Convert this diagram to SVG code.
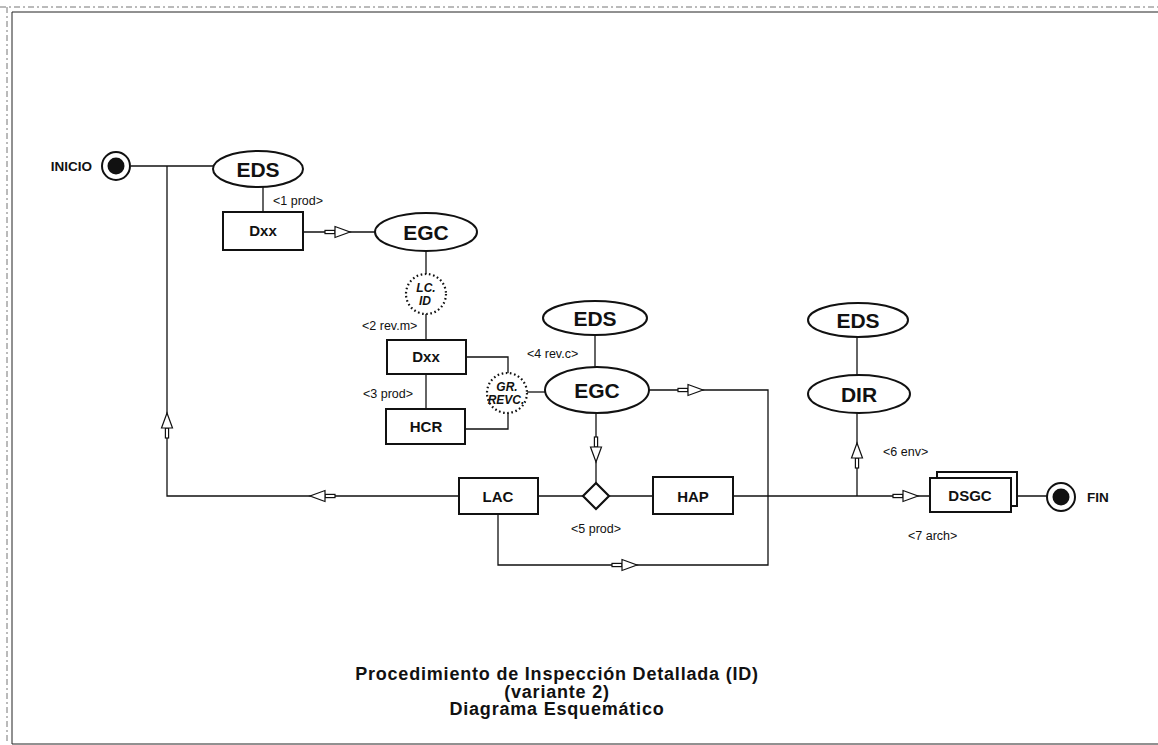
<svg xmlns="http://www.w3.org/2000/svg" xmlns:xlink="http://www.w3.org/1999/xlink" width="1158" height="745" viewBox="0 0 1158 745">
<style>
.frame{stroke:#222;stroke-width:1;fill:none}
.frame2{stroke:#777;stroke-width:1;fill:none;stroke-dasharray:6 3 2 3}
.conn{stroke:#111;stroke-width:1.3;fill:none}
.box{fill:#fff;stroke:#111;stroke-width:2}
.ell{fill:#fff;stroke:#111;stroke-width:2}
.dot{fill:#fff;stroke:#111;stroke-width:2.2;stroke-dasharray:1.6 2.6}
.arr{fill:#fff;stroke:#111;stroke-width:1.2}
.big{font-family:"Liberation Sans",Arial,sans-serif;font-weight:bold;font-size:21px;fill:#111;text-anchor:middle}
.bt{font-family:"Liberation Sans",Arial,sans-serif;font-weight:bold;font-size:15px;fill:#111;text-anchor:middle}
.it{font-family:"Liberation Sans",Arial,sans-serif;font-weight:bold;font-style:italic;font-size:12px;fill:#111;text-anchor:middle}
.lbl{font-family:"Liberation Sans",Arial,sans-serif;font-size:12.5px;fill:#111}
.term{font-family:"Liberation Sans",Arial,sans-serif;font-weight:bold;font-size:13.5px;fill:#111}
.title{font-family:"Liberation Sans",Arial,sans-serif;font-weight:bold;font-size:18px;letter-spacing:0.8px;fill:#111;text-anchor:middle}
</style>
<defs>
<g id="arr">
<rect class="arr" x="-25" y="-1.6" width="10" height="3.2"/>
<polygon class="arr" points="-15,-5.5 0,0 -15,5.5"/>
</g>
</defs>
<rect x="0" y="0" width="1158" height="745" fill="#fff"/>
<g id="frame">
<line class="frame2" x1="0" y1="7" x2="1158" y2="7"/>
<line class="frame" x1="12" y1="12" x2="1158" y2="12"/>
<line class="frame2" x1="7" y1="7" x2="7" y2="744"/>
<line class="frame" x1="12" y1="12" x2="12" y2="744"/>
<line class="frame" x1="12" y1="744" x2="1158" y2="744"/>
</g>
<g id="connectors">
<path class="conn" d="M131,166 H214"/>
<path class="conn" d="M167,166 V496 H459"/>
<path class="conn" d="M263,184 V212"/>
<path class="conn" d="M303,232 H376"/>
<path class="conn" d="M426,250 V340"/>
<path class="conn" d="M426,374 V409"/>
<path class="conn" d="M466,357 H508 V429 H465"/>
<path class="conn" d="M527,392 H547"/>
<path class="conn" d="M595,334 V368"/>
<path class="conn" d="M648,390 H768 V565 H498 V514"/>
<path class="conn" d="M596,412 V484"/>
<path class="conn" d="M538,496 H931"/>
<path class="conn" d="M857,496 V412"/>
<path class="conn" d="M857,336 V377"/>
<path class="conn" d="M1011,496 H1047"/>
<use xlink:href="#arr" transform="translate(167,413) rotate(-90)"/>
<use xlink:href="#arr" transform="translate(310,496) rotate(180)"/>
<use xlink:href="#arr" transform="translate(350,232)"/>
<use xlink:href="#arr" transform="translate(703,390)"/>
<use xlink:href="#arr" transform="translate(637,565)"/>
<use xlink:href="#arr" transform="translate(596,462) rotate(90)"/>
<use xlink:href="#arr" transform="translate(857,443) rotate(-90)"/>
<use xlink:href="#arr" transform="translate(918,496)"/>
</g>
<g id="inicio">
<circle cx="116" cy="166" r="14" fill="#fff" stroke="#111" stroke-width="2"/>
<circle cx="116" cy="166" r="8.5" fill="#111"/>
<text class="term" x="92" y="171" text-anchor="end">INICIO</text>
</g>
<g id="eds1">
<ellipse class="ell" cx="258" cy="169" rx="45" ry="18"/>
<text class="big" x="258" y="177">EDS</text>
</g>
<text class="lbl" x="273" y="205">&lt;1 prod&gt;</text>
<g id="dxx1">
<rect class="box" x="223" y="212" width="80" height="38"/>
<text class="bt" x="263" y="236">Dxx</text>
</g>
<g id="egc1">
<ellipse class="ell" cx="426" cy="232" rx="51" ry="19"/>
<text class="big" x="426" y="240">EGC</text>
</g>
<g id="lcid">
<circle class="dot" cx="426" cy="294" r="20"/>
<text class="it" x="426" y="292">LC.</text>
<text class="it" x="425" y="305">ID</text>
</g>
<text class="lbl" x="362" y="330">&lt;2 rev.m&gt;</text>
<g id="dxx2">
<rect class="box" x="387" y="340" width="79" height="34"/>
<text class="bt" x="426" y="362">Dxx</text>
</g>
<text class="lbl" x="363" y="398">&lt;3 prod&gt;</text>
<g id="hcr">
<rect class="box" x="386" y="409" width="79" height="35"/>
<text class="bt" x="426" y="432">HCR</text>
</g>
<g id="grrevc">
<circle class="dot" cx="507" cy="393" r="20"/>
<text class="it" x="507" y="391">GR.</text>
<text class="it" x="506" y="404">REVC.</text>
</g>
<g id="eds2">
<ellipse class="ell" cx="595" cy="318" rx="52" ry="17"/>
<text class="big" x="595" y="326">EDS</text>
</g>
<text class="lbl" x="527" y="358">&lt;4 rev.c&gt;</text>
<g id="egc2">
<ellipse class="ell" cx="597" cy="390" rx="52" ry="23"/>
<text class="big" x="597" y="398">EGC</text>
</g>
<g id="lac">
<rect class="box" x="459" y="478" width="79" height="36"/>
<text class="bt" x="498" y="502">LAC</text>
</g>
<g id="decision">
<polygon points="596,483 609,496 596,509 583,496" fill="#fff" stroke="#111" stroke-width="2.2"/>
</g>
<text class="lbl" x="571" y="533">&lt;5 prod&gt;</text>
<g id="hap">
<rect class="box" x="653" y="477" width="80" height="37"/>
<text class="bt" x="693" y="502">HAP</text>
</g>
<g id="eds3">
<ellipse class="ell" cx="858" cy="320" rx="50" ry="17"/>
<text class="big" x="858" y="328">EDS</text>
</g>
<g id="dir">
<ellipse class="ell" cx="859" cy="394" rx="51" ry="19"/>
<text class="big" x="859" y="402">DIR</text>
</g>
<text class="lbl" x="883" y="456">&lt;6 env&gt;</text>
<g id="dsgc">
<rect class="box" x="937" y="472" width="80" height="34"/>
<rect class="box" x="930" y="478" width="81" height="34"/>
<text class="bt" x="970" y="501">DSGC</text>
</g>
<text class="lbl" x="908" y="540">&lt;7 arch&gt;</text>
<g id="fin">
<circle cx="1061" cy="497" r="14" fill="#fff" stroke="#111" stroke-width="2"/>
<circle cx="1061" cy="497" r="8.5" fill="#111"/>
<text class="term" x="1087" y="502">FIN</text>
</g>
<g id="title">
<text class="title" x="557" y="680">Procedimiento de Inspección Detallada (ID)</text>
<text class="title" x="557" y="697.5">(variante 2)</text>
<text class="title" x="557" y="715">Diagrama Esquemático</text>
</g>
</svg>
